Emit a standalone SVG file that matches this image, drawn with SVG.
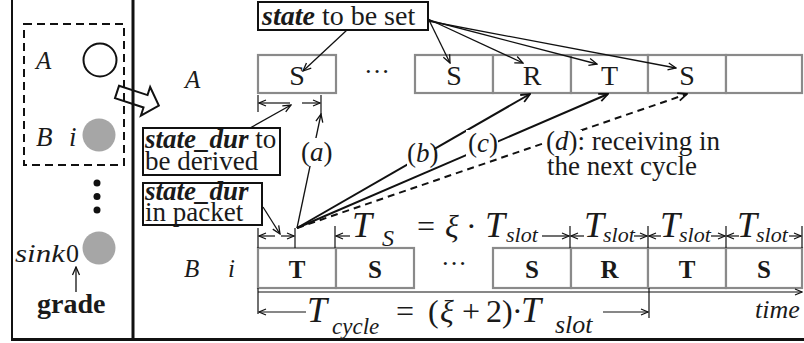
<svg xmlns="http://www.w3.org/2000/svg" width="804" height="343" viewBox="0 0 804 343">
<defs>
<style>
.t{font-family:"Liberation Serif","Times New Roman",serif;fill:#1a1a1a}
.i{font-style:italic}
.b{font-weight:bold}
.bi{font-weight:bold;font-style:italic}
.slot{fill:#fff;stroke:#8a8a8a;stroke-width:2.2}
.lbl{fill:#fff;stroke:#111;stroke-width:2}
.ln{stroke:#111;stroke-width:1.3;fill:none}
.thk{stroke:#111;stroke-width:2;fill:none}
.dim{stroke:#111;stroke-width:1.2;fill:none}
.gc{fill:#a6a6a6}
</style>
<marker id="arr" viewBox="-10 -5 11 10" refX="0" refY="0" markerWidth="11" markerHeight="10" markerUnits="userSpaceOnUse" orient="auto">
<path d="M-8,-3.5 L0,0 L-8,3.5" fill="none" stroke="#111" stroke-width="1.3"/>
</marker>
<marker id="arr2" viewBox="-10 -5 11 10" refX="0" refY="0" markerWidth="11" markerHeight="10" markerUnits="userSpaceOnUse" orient="auto">
<path d="M-9,-4 L0,0 L-9,4" fill="none" stroke="#111" stroke-width="1.8"/>
</marker>
<marker id="dh" viewBox="-8 -4 9 8" refX="0" refY="0" markerWidth="9" markerHeight="8" markerUnits="userSpaceOnUse" orient="auto">
<path d="M-7,-3 L0,0 L-7,3" fill="none" stroke="#111" stroke-width="1.2"/>
</marker>
</defs>
<rect x="0" y="0" width="804" height="343" fill="#fff"/>

<!-- left panel -->
<g id="panel-left">
<polygon points="0,-6.5 30,-6.5 30,-15 44,0 30,15 30,6.5 0,6.5" transform="translate(117,92) rotate(18)" fill="#fff" stroke="#111" stroke-width="2"/>
<rect x="24" y="24" width="100" height="141" fill="none" stroke="#111" stroke-width="2" stroke-dasharray="8 5"/>
</g>
<g id="frame">
<line x1="12" y1="0" x2="12" y2="340" stroke="#111" stroke-width="2"/>
<line x1="133" y1="0" x2="133" y2="340" stroke="#111" stroke-width="3"/>
<line x1="11" y1="339.5" x2="804" y2="339.5" stroke="#111" stroke-width="3"/>
</g>
<g id="node-A-left">
<text class="t i" x="36" y="69" font-size="25">A</text>
<circle cx="100" cy="60" r="16.5" fill="#fff" stroke="#111" stroke-width="2"/>
</g>
<g id="node-B-left">
<text class="t i" x="36" y="146" font-size="27">B</text>
<text class="t i" x="69" y="146" font-size="27">i</text>
<circle cx="99" cy="135" r="16.5" class="gc"/>
</g>
<g id="dots-left">
<circle cx="97" cy="183" r="3.5" fill="#111"/>
<circle cx="97" cy="196.5" r="3.5" fill="#111"/>
<circle cx="97" cy="210" r="3.5" fill="#111"/>
</g>
<g id="node-sink">
<text class="t i" x="15" y="262" font-size="26" textLength="50" lengthAdjust="spacingAndGlyphs">sink</text>
<text class="t" x="66" y="262" font-size="26">0</text>
<circle cx="99" cy="248" r="16.5" class="gc"/>
</g>
<g id="grade">
<line x1="76" y1="292" x2="76" y2="267" class="ln" marker-end="url(#arr)"/>
<text class="t b" x="37" y="313" font-size="28">grade</text>
</g>

<!-- row A -->
<g id="row-A">
<text class="t i" x="185" y="88" font-size="25">A</text>
<rect class="slot" x="258" y="55" width="78" height="38"/>
<text class="t" x="297" y="85" font-size="28" text-anchor="middle">S</text>
<text class="t" x="377" y="80" font-size="26" text-anchor="middle">···</text>
<rect class="slot" x="415" y="55" width="78" height="38"/>
<rect class="slot" x="493" y="55" width="78" height="38"/>
<rect class="slot" x="571" y="55" width="77" height="38"/>
<rect class="slot" x="648" y="55" width="78" height="38"/>
<rect class="slot" x="726" y="55" width="76" height="38"/>
<text class="t" x="454" y="85" font-size="28" text-anchor="middle">S</text>
<text class="t" x="532" y="85" font-size="28" text-anchor="middle">R</text>
<text class="t" x="609.5" y="85" font-size="28" text-anchor="middle">T</text>
<text class="t" x="687" y="85" font-size="28" text-anchor="middle">S</text>
</g>

<!-- row B -->
<g id="row-B">
<text class="t i" x="184" y="277" font-size="25">B</text>
<text class="t i" x="228" y="277" font-size="25">i</text>
<rect class="slot" x="258" y="248" width="78" height="40"/>
<rect class="slot" x="336" y="248" width="78" height="40"/>
<rect class="slot" x="493" y="248" width="78" height="40"/>
<rect class="slot" x="571" y="248" width="77" height="40"/>
<rect class="slot" x="648" y="248" width="78" height="40"/>
<rect class="slot" x="726" y="248" width="76" height="40"/>
<text class="t b" x="297" y="278" font-size="25" text-anchor="middle">T</text>
<text class="t b" x="375" y="278" font-size="25" text-anchor="middle">S</text>
<text class="t" x="454" y="272" font-size="26" text-anchor="middle">···</text>
<text class="t b" x="532" y="278" font-size="25" text-anchor="middle">S</text>
<text class="t b" x="609.5" y="278" font-size="25" text-anchor="middle">R</text>
<text class="t b" x="687" y="278" font-size="25" text-anchor="middle">T</text>
<text class="t b" x="764" y="278" font-size="25" text-anchor="middle">S</text>
</g>

<!-- label boxes -->
<g id="label-state">
<rect class="lbl" x="258" y="2" width="170" height="28"/>
<text class="t" x="262" y="25" font-size="28"><tspan class="bi">state</tspan> to be set</text>
</g>
<g id="label-derived">
<rect class="lbl" x="143" y="128" width="137" height="47"/>
<text class="t" x="145" y="148" font-size="27"><tspan class="bi">state_dur</tspan> to</text>
<text class="t" x="145" y="170" font-size="27">be derived</text>
</g>
<g id="label-packet">
<rect class="lbl" x="143" y="183" width="119" height="42"/>
<text class="t bi" x="145" y="200" font-size="27">state_dur</text>
<text class="t" x="145" y="221" font-size="27">in packet</text>
</g>

<!-- connectors -->
<g id="connectors">
<line x1="347" y1="30" x2="303" y2="71" class="ln" marker-end="url(#arr)"/>
<line x1="428" y1="18" x2="450" y2="63" class="ln" marker-end="url(#arr)"/>
<line x1="428" y1="19" x2="523" y2="63" class="ln" marker-end="url(#arr)"/>
<line x1="428" y1="20" x2="597" y2="64" class="ln" marker-end="url(#arr)"/>
<line x1="428" y1="21" x2="676" y2="68" class="ln" marker-end="url(#arr)"/>
<line x1="250" y1="128" x2="291" y2="105" class="ln" marker-end="url(#arr)"/>
<line x1="263" y1="207" x2="280" y2="234" class="ln" marker-end="url(#arr)"/>
<line x1="297" y1="228" x2="321" y2="114" class="ln" marker-end="url(#arr)"/>
<line x1="297" y1="228" x2="530" y2="94" class="thk" marker-end="url(#arr2)"/>
<line x1="297" y1="228" x2="608" y2="94" class="thk" marker-end="url(#arr2)"/>
<line x1="297" y1="228" x2="687" y2="94" class="thk" stroke-dasharray="7 5" marker-end="url(#arr2)"/>
</g>

<g id="case-labels">
<rect x="301" y="138" width="27" height="28" fill="#fff"/>
<text class="t" x="301" y="161" font-size="27">(<tspan class="i">a</tspan>)</text>
<rect x="407" y="139" width="27" height="28" fill="#fff"/>
<text class="t" x="407" y="162" font-size="27">(<tspan class="i">b</tspan>)</text>
<rect x="466" y="130" width="32" height="27" fill="#fff"/>
<text class="t" x="468" y="152" font-size="27">(<tspan class="i">c</tspan>)</text>
<rect x="544" y="130" width="38" height="27" fill="#fff"/>
<text class="t" x="546" y="150" font-size="27">(<tspan class="i">d</tspan>): receiving in</text>
<text class="t" x="547" y="175" font-size="27">the next cycle</text>
</g>

<!-- dimension under A first slot -->
<g id="dim-A">
<line x1="258" y1="95" x2="258" y2="112" class="dim"/>
<line x1="321" y1="95" x2="321" y2="114" class="dim"/>
<line x1="290" y1="103" x2="259" y2="103" class="dim" marker-end="url(#dh)"/>
<line x1="302" y1="103" x2="320" y2="103" class="dim" marker-end="url(#dh)"/>
</g>

<!-- dimensions above B row -->
<g id="dim-B-top">
<line x1="258" y1="228" x2="258" y2="248" class="dim"/>
<line x1="295" y1="228" x2="295" y2="248" class="dim"/>
<line x1="335" y1="226" x2="335" y2="248" class="dim"/>
<line x1="570" y1="226" x2="570" y2="248" class="dim"/>
<line x1="648" y1="226" x2="648" y2="248" class="dim"/>
<line x1="726" y1="226" x2="726" y2="248" class="dim"/>
<line x1="802" y1="226" x2="802" y2="248" class="dim"/>
<line x1="275" y1="236" x2="259" y2="236" class="dim" marker-end="url(#dh)"/>
<line x1="281" y1="236" x2="294" y2="236" class="dim" marker-end="url(#dh)"/>
<line x1="350" y1="236" x2="336" y2="236" class="dim" marker-end="url(#dh)"/>
<text class="t i" x="352" y="237" font-size="36">T</text>
<text class="t i" x="382" y="246" font-size="24">S</text>
<text class="t" x="417" y="237" font-size="32">=</text>
<text class="t i" x="445" y="237" font-size="32">ξ</text>
<text class="t" x="466" y="237" font-size="32">·</text>
<text class="t i" x="485" y="237" font-size="36">T</text>
<text class="t i" x="506" y="242" font-size="22">slot</text>
<line x1="542" y1="236" x2="569" y2="236" class="dim" marker-end="url(#dh)"/>
<line x1="584" y1="236" x2="571" y2="236" class="dim" marker-end="url(#dh)"/>
<text class="t i" x="584" y="237" font-size="36">T</text>
<text class="t i" x="603" y="242" font-size="22">slot</text>
<line x1="634" y1="236" x2="647" y2="236" class="dim" marker-end="url(#dh)"/>
<line x1="661" y1="236" x2="649" y2="236" class="dim" marker-end="url(#dh)"/>
<text class="t i" x="660" y="237" font-size="36">T</text>
<text class="t i" x="679" y="242" font-size="22">slot</text>
<line x1="711" y1="236" x2="725" y2="236" class="dim" marker-end="url(#dh)"/>
<line x1="739" y1="236" x2="727" y2="236" class="dim" marker-end="url(#dh)"/>
<text class="t i" x="737" y="237" font-size="36">T</text>
<text class="t i" x="756" y="242" font-size="22">slot</text>
<line x1="789" y1="236" x2="801" y2="236" class="dim" marker-end="url(#dh)"/>
</g>

<!-- cycle dimension and time axis -->
<g id="dim-cycle">
<line x1="258" y1="292" x2="802" y2="292" class="dim" marker-end="url(#dh)"/>
<line x1="258" y1="288" x2="258" y2="314" class="dim"/>
<line x1="649" y1="288" x2="649" y2="318" class="dim"/>
<line x1="306" y1="312" x2="259" y2="312" class="dim" marker-end="url(#dh)"/>
<text class="t i" x="307" y="322" font-size="36">T</text>
<text class="t i" x="332" y="334" font-size="23">cycle</text>
<text class="t" x="396" y="322" font-size="32">=</text>
<text class="t" x="428" y="322" font-size="32">(</text>
<text class="t i" x="440" y="322" font-size="32">ξ</text>
<text class="t" x="462" y="322" font-size="32">+</text>
<text class="t" x="486" y="322" font-size="32">2</text>
<text class="t" x="502" y="322" font-size="32">)</text>
<text class="t" x="512" y="322" font-size="32">·</text>
<text class="t i" x="521" y="322" font-size="36">T</text>
<text class="t i" x="555" y="333" font-size="26">slot</text>
<line x1="603" y1="312" x2="648" y2="312" class="dim" marker-end="url(#dh)"/>
<text class="t i" x="755" y="318" font-size="26">time</text>
</g>
</svg>
